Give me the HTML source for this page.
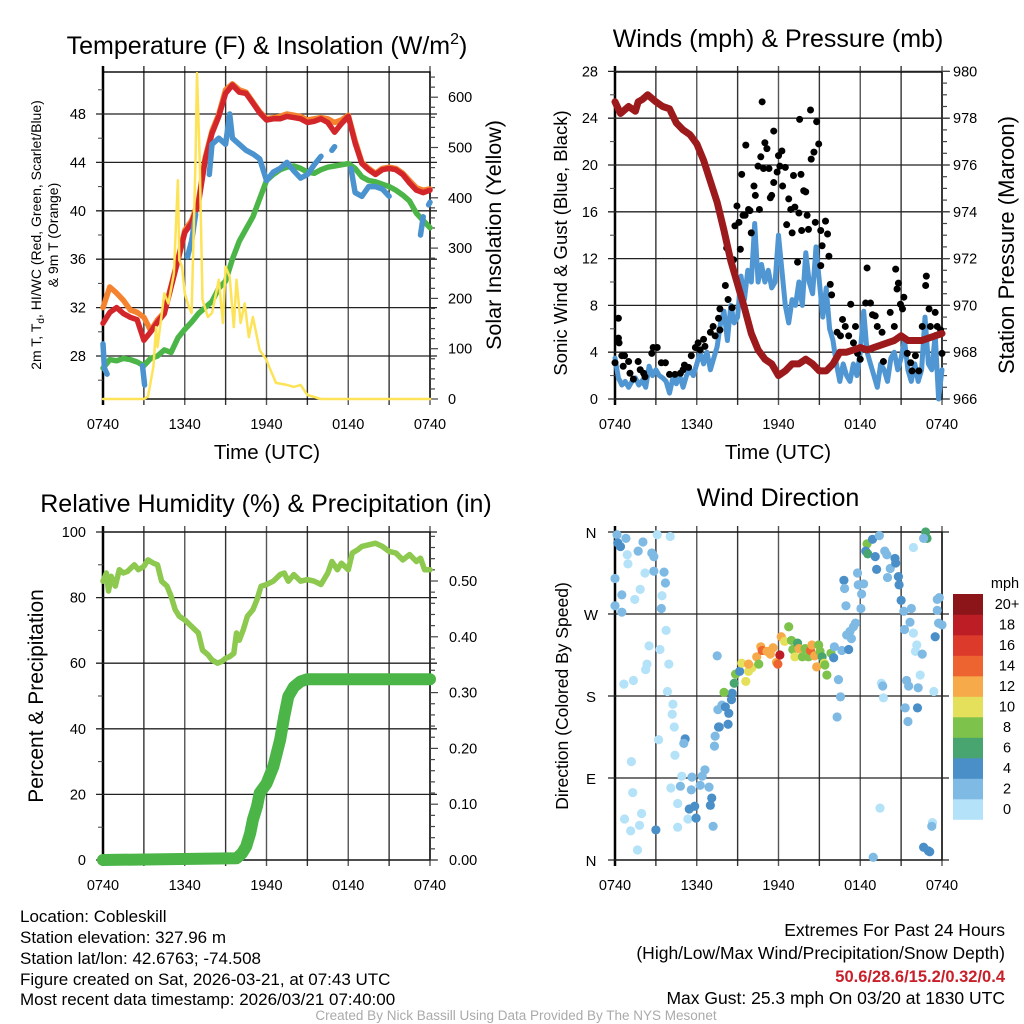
<!DOCTYPE html>
<html><head><meta charset="utf-8"><style>
html,body{margin:0;padding:0;background:#fff;}
svg{display:block;font-family:"Liberation Sans",Arial,sans-serif;}
</style></head><body>
<svg id="chart" width="1024" height="1024" viewBox="0 0 1024 1024" xmlns="http://www.w3.org/2000/svg">
<g id="static">
<text x="267" y="54" font-size="25" text-anchor="middle">Temperature (F) &amp; Insolation (W/m<tspan font-size="16" dy="-10">2</tspan><tspan dy="10">)</tspan></text>
<text x="778" y="47" font-size="25" text-anchor="middle">Winds (mph) &amp; Pressure (mb)</text>
<text x="266" y="512" font-size="25" text-anchor="middle">Relative Humidity (%) &amp; Precipitation (in)</text>
<text x="778" y="506" font-size="25" text-anchor="middle">Wind Direction</text>

<text x="267" y="459" font-size="20.5" text-anchor="middle">Time (UTC)</text>
<text x="778" y="459" font-size="20.5" text-anchor="middle">Time (UTC)</text>

<text transform="translate(41,235) rotate(-90)" font-size="14" text-anchor="middle">2m T, T<tspan font-size="10" dy="3">d</tspan><tspan dy="-3">, HI/WC (Red, Green, Scarlet/Blue)</tspan></text>
<text transform="translate(58,235) rotate(-90)" font-size="14" text-anchor="middle">&amp; 9m T (Orange)</text>
<text transform="translate(501,235) rotate(-90)" font-size="21.5" text-anchor="middle">Solar Insolation (Yellow)</text>
<text transform="translate(567,243) rotate(-90)" font-size="18.5" text-anchor="middle">Sonic Wind &amp; Gust (Blue, Black)</text>
<text transform="translate(1014,245) rotate(-90)" font-size="22" text-anchor="middle">Station Pressure (Maroon)</text>
<text transform="translate(43,696) rotate(-90)" font-size="21" text-anchor="middle">Percent &amp; Precipitation</text>
<text transform="translate(568,696) rotate(-90)" font-size="17.5" text-anchor="middle">Direction (Colored By Speed)</text>

<g font-size="17">
<text x="20" y="922">Location: Cobleskill</text>
<text x="20" y="943">Station elevation: 327.96 m</text>
<text x="20" y="964">Station lat/lon: 42.6763; -74.508</text>
<text x="20" y="985">Figure created on Sat, 2026-03-21, at 07:43 UTC</text>
<text x="20" y="1005">Most recent data timestamp: 2026/03/21 07:40:00</text>
</g>
<g font-size="17.5" text-anchor="end">
<text x="1005" y="936">Extremes For Past 24 Hours</text>
<text x="1005" y="959">(High/Low/Max Wind/Precipitation/Snow Depth)</text>
<text x="1005" y="982" fill="#c8202a" font-weight="bold" font-size="16.5">50.6/28.6/15.2/0.32/0.4</text>
<text x="1005" y="1004">Max Gust: 25.3 mph On 03/20 at 1830 UTC</text>
</g>
<text x="516" y="1020" font-size="13.5" fill="#aaa" text-anchor="middle">Created By Nick Bassill Using Data Provided By The NYS Mesonet</text>
</g>
<g id="dyn"></g>
</svg>
<script>
// ---------- DATA ----------
const timeLabels = ["0740","1340","1940","0140","0740"];
const tHalf = [0,0.5,1,1.5,2,2.5,3,3.5,4,4.5,5,5.5,6,6.5,7,7.5,8,8.5,9,9.5,10,10.5,11,11.5,12,12.5,13,13.5,14,14.5,15,15.5,16,16.5,17,17.5,18,18.5,19,19.5,20,20.5,21,21.5,22,22.5,23,23.5,24];
const tempRed = [30.7,31.6,32,31.5,31.2,31,29.3,30,30.8,31.5,33.7,35.9,38.2,39,40.6,44.2,46.4,47.8,49.7,50.4,49.8,49.7,48.9,48.1,47.5,47.6,47.6,47.8,47.7,47.6,47.3,47.4,47.6,47.3,46.5,47.2,47.8,45.6,43.9,43.4,43,43.4,43.5,43.4,43,42.3,41.7,41.5,41.7];
const temp9m = [32,33.7,33.2,32.6,31.8,31.6,31.2,30.1,31,31.6,33.8,36,38.4,39.2,40.8,44.4,46.6,48,50,50.5,50,49.8,49,48.2,47.6,47.7,47.8,48,47.9,47.8,47.5,47.6,47.7,47.6,47.3,47.5,47.9,45.8,44,43.5,43.1,43.5,43.6,43.5,43.1,42.5,41.9,41.7,41.8];
const dewGreen = [27,27.7,27.6,27.8,27.7,27.5,27.2,27.8,28,28.5,28.3,29.5,30.2,30.8,31.5,32,32.5,33.6,34.2,36,37.5,38.5,39.5,41,42.5,43,43.4,43.6,43.7,43.5,43.2,43.1,43.4,43.6,43.7,43.8,43.9,43.5,42.8,42.5,42.4,42.2,42,41.7,41.3,40.8,39.8,39.2,38.6];
const hiwcT = [0,0.1,0.3,null,2.9,3.05,null,6.2,6.5,6.8,null,7.8,8,8.5,9,9.3,9.5,10,10.5,11,11.5,12,12.5,13,13.5,14,14.5,15,15.5,16,null,16.8,17,null,18.2,18.5,19,19.5,20,20.5,21,null,23.3,23.5,null,23.9,24];
const hiwcV = [29,27,26.5,null,27.2,25.6,null,36.2,37.5,39.7,null,43,45.5,46,45.5,48,46,45.5,45,44.7,44.3,42.5,43.2,43.5,44,43.3,42.7,43,43.8,44.5,null,45,45.3,null,43.5,41.5,41.2,42,42,41.8,41.2,null,38,39.5,null,40.5,40.7];
const solarT = [0,3,3.3,3.7,3.9,4.0,4.5,4.8,5.2,5.5,5.6,5.8,6,6.3,6.5,6.8,6.9,7.1,7.3,7.7,8,8.5,8.8,9.0,9.3,9.6,9.8,10.1,10.4,10.7,11,11.5,12,12.2,12.7,13.5,14,14.5,15,15.5,16,24];
const solarW = [0,0,5,64,143,103,210,190,250,435,276,263,210,183,171,481,648,475,197,163,171,237,151,263,243,143,237,151,190,123,163,97,78,64,32,28,24,28,8,4,0,0];

const windT = [0,0.25,0.5,0.75,1,1.25,1.5,1.75,2,2.25,2.5,2.75,3,3.25,3.5,3.75,4,4.25,4.5,4.75,5,5.25,5.5,5.75,6,6.25,6.5,6.75,7,7.25,7.5,7.75,8,8.25,8.5,8.75,9,9.25,9.5,9.75,10,10.25,10.5,10.75,11,11.25,11.5,11.75,12,12.25,12.5,12.75,13,13.25,13.5,13.75,14,14.25,14.5,14.75,15,15.25,15.5,15.75,16,16.25,16.5,16.75,17,17.25,17.5,17.75,18,18.25,18.5,18.75,19,19.25,19.5,19.75,20,20.25,20.5,20.75,21,21.25,21.5,21.75,22,22.25,22.5,22.75,23,23.25,23.5,23.75,24];
const windMph = [3.5,1.8,1.2,1.5,1.0,1.5,1.8,1.2,1.6,1.0,2.8,2.0,2.5,2.0,1.8,1.5,0.5,1.8,1.3,2.0,1.0,2.0,2.5,2.0,3.0,4.0,3.0,4.0,2.5,3.5,4.5,6.5,7.5,5.0,8.0,6.5,7.0,10.5,8.5,11.0,10.0,15.0,10.0,11.5,10.0,11.0,9.5,10.0,14.0,11.0,8.0,6.5,8.5,8.0,10.0,8.0,12.5,10.0,9.0,13.0,10.0,7.0,9.5,6.0,5.0,3.0,1.5,3.0,2.0,1.5,3.0,2.0,4.0,7.5,4.0,3.0,2.0,1.0,3.0,2.5,1.5,3.5,4.0,2.5,3.5,5.0,2.5,1.5,3.0,1.5,2.5,7.0,3.0,2.5,5.5,0.0,2.5];
const gustT = [0,0.25,0.25,0.3,0.5,0.7,0.6,1.0,1.1,1.35,1.7,1.85,2.1,2.2,2.7,2.8,3.1,3.4,3.7,4.0,4.4,4.8,5.0,5.1,5.4,5.6,5.9,6.1,6.25,6.5,6.6,7.0,7.2,7.35,7.6,7.7,7.7,8.1,8.2,8.3,8.6,8.7,8.8,8.95,9.1,9.2,9.3,9.4,9.55,9.6,9.8,9.9,10.0,10.2,10.3,10.5,10.6,10.7,10.8,10.9,11.0,11.15,11.3,11.4,11.5,11.65,11.65,11.9,12.0,12.1,12.25,12.3,12.5,12.6,12.75,12.9,13.0,13.1,13.2,13.4,13.5,13.55,13.65,13.7,13.85,14.0,14.1,14.2,14.35,14.4,14.6,14.7,14.8,14.95,15.1,15.1,15.2,15.45,15.6,15.7,15.8,15.9,16.3,16.55,16.7,16.9,17.15,17.3,17.5,17.65,17.8,18.0,18.4,18.5,18.75,18.9,19.1,19.25,19.6,19.7,20.2,20.5,20.6,20.7,20.8,20.95,21.1,21.2,21.45,21.7,21.8,22.05,22.3,22.55,22.8,22.85,23.05,23.15,23.5,23.65,23.9,24.0];
const gustMph = [3.1,6.9,5.2,4.8,3.7,3.7,2.8,3.2,2.2,1.7,3.2,2.5,2.2,1.9,3.9,4.4,4.4,3.1,3.1,2.1,2.1,2.2,2.5,2.9,2.7,3.7,4.4,4.8,4.2,5.1,4.5,5.7,6.2,5.4,6.9,5.9,7.7,9.7,12.9,8.5,7.8,11.9,14.8,16.5,15.1,12.8,19.2,15.7,15.7,21.7,16.2,16.1,14.2,18.2,17.4,19.9,16.2,20.7,25.4,19.7,21.9,21.4,19.7,17.2,17.4,22.9,18.5,19.4,20.8,19.9,21.2,18.2,19.8,14.9,17.1,16.2,14.2,19.1,16.4,11.7,15.9,23.9,19.2,14.4,17.8,17.7,15.7,14.5,24.7,20.5,21.1,15.1,23.7,21.8,11.4,14.4,13.1,15.2,14.1,12.2,9.8,8.9,5.7,5.4,6.8,6.2,5.4,8.1,4.8,6.2,3.9,3.4,8.2,11.2,8.2,7.2,7.1,6.2,5.7,3.2,7.4,6.2,11.1,9.4,9.9,8.1,7.7,8.7,3.9,3.1,2.4,3.7,2.4,6.2,9.7,10.5,7.7,6.2,7.4,6.2,5.9,3.9];
const presT = [0,0.4,1,1.5,1.7,2,2.4,3,3.5,4,4.5,5,5.5,6,6.5,7,7.5,8,8.5,9,9.5,10,10.5,11,11.5,12,12.5,13,13.5,14,14.5,15,15.5,16,16.5,17,17.5,18,18.5,19,19.5,20,20.5,21,21.5,22,22.5,23,23.5,24];
const presMb = [978.7,978.2,978.5,978.3,978.7,978.8,979.0,978.7,978.5,978.4,977.8,977.5,977.3,976.9,976.2,975.3,974.4,973.2,971.9,970.9,969.9,968.8,968.1,967.7,967.5,967.0,967.2,967.5,967.5,967.7,967.5,967.2,967.2,967.5,968.0,968.0,968.1,968.2,968.1,968.2,968.3,968.4,968.5,968.7,968.5,968.5,968.5,968.6,968.7,968.8];

const rhT = [0,0.25,0.4,0.6,0.9,1.2,1.5,1.8,2.3,2.6,3.0,3.3,3.7,4.0,4.3,4.7,5.0,5.3,5.6,6.0,6.5,7.0,7.3,7.7,8.0,8.4,8.7,9.0,9.3,9.6,9.8,10.0,10.3,10.6,11.0,11.3,11.6,12.0,12.5,13.0,13.3,13.6,14.0,14.5,15.0,15.5,16.0,16.5,16.8,17.2,17.5,18.0,18.3,18.7,19.0,19.5,20.0,20.5,21.0,21.5,22.0,22.5,23.0,23.3,23.6,24];
const rhPct = [85,87.5,82,86.5,83.5,88.5,87.5,88,90,88.5,89.5,91.5,90.5,90,85,83.5,80.4,76.3,74.3,73.2,71.2,69.2,64,62.6,61,60,60.5,61.5,62,63,69.2,67,70.2,74.3,76.3,79.4,83.4,84,85,87,87.5,85,87,85,85.5,85,84,87.5,91,88.5,90.5,88.5,93.6,94.6,95.6,96.1,96.6,95.6,94.1,93.6,91.5,93.1,91,92,88.5,88.5];
const precipT = [0,9.8,10.2,10.5,10.8,11,11.3,11.5,12,12.5,13,13.3,13.6,14,14.5,15,24];
const precipIn = [0,0.003,0.012,0.024,0.048,0.072,0.096,0.12,0.137,0.167,0.215,0.257,0.293,0.31,0.32,0.324,0.324];

const dirT = [0.15,0.2,0.4,0.8,0,0.5,0,0.5,0.9,0.95,1.7,2.05,2.2,1.85,1.45,2.7,2.85,3.1,4.05,2.85,3.6,3.7,3.45,3.4,3.75,2.5,3.3,2.35,2.25,3.95,0.65,1.35,3.85,4.25,4.2,4.35,3.2,5.15,5.05,4.4,1.2,4.9,5.65,1.3,4.1,4.8,5.6,4.6,5.45,5.85,0.7,1.15,1.95,1.8,1.65,3.0,4.6,5.35,5.95,6.6,6.4,6.25,6.9,7.1,7.0,7.2,7.3,7.35,7.6,7.65,8.3,7.55,7.85,8.35,8.1,8.55,8.6,8.0,8.75,8.85,7.5,9.15,9.3,9.6,9.8,10.05,9.8,10.4,10.55,10.7,10.8,11.15,11.4,11.6,11.85,11.95,12.1,12.2,12.45,12.75,12.95,13.05,13.4,13.2,13.5,13.75,13.95,14.2,14.35,14.45,14.65,14.8,14.95,15.05,15.2,15.35,15.4,15.55,15.85,16.05,16.1,16.65,17.15,16.4,16.55,16.3,17.25,17.5,17.65,17.0,17.35,16.95,18.05,18.1,17.85,17.8,18.25,16.8,16.85,18.5,18.4,18.55,18.9,19.1,19.2,19.4,19.8,19.95,20.0,20.2,20.55,20.6,20.8,20.85,21.0,21.2,21.75,21.9,21.25,21.65,21.9,22.15,22.05,22.55,22.4,22.25,21.55,21.4,19.55,19.65,19.7,21.3,22.2,21.5,22.8,22.9,22.65,23.4,23.5,23.65,23.8,23.75,24.0,23.65,19.45,18.95,23.3,23.25,22.65,23.1,23.0];
const dirDeg = [357,348,344,353,309,291,279,272,335,325,339,349,315,297,286,337,333,357,355,317,316,304,290,276,252,235,231,215,209,215,193,197,185,171,160,146,132,133,128,115,108,92,91,74,79,81,77,62,56,59,45,32,51,38,11,33,36,45,46,99,92,82,80,68,60,37,125,136,146,146,149,165,170,161,168,176,183,184,194,204,224,207,216,196,207,211,215,223,215,234,230,229,226,233,217,215,225,245,240,256,241,231,238,223,232,223,232,223,230,236,224,212,236,229,223,216,214,203,227,222,234,230,231,198,179,157,251,256,260,247,243,279,276,292,302,315,303,307,298,347,339,336,352,333,319,356,339,335,310,320,331,326,311,302,285,273,276,343,253,261,249,236,229,226,203,189,191,197,194,191,178,167,167,152,360,353,353,185,245,286,288,260,258,274,57,3,41,37,14,9,10];
const dirSpd = [2,4,4,2,2,2,2,2,0,0,2,2,0,0,0,2,2,0,0,2,2,2,0,2,0,0,0,0,0,0,0,0,0,0,0,0,0,4,2,0,0,0,2,0,0,2,2,0,4,4,0,0,0,0,0,4,0,0,4,2,2,2,2,4,4,2,2,2,4,4,4,2,2,4,4,4,4,8,6,8,2,4,10,10,10,10,12,12,8,12,14,12,12,12,12,14,18,12,10,8,8,8,6,10,12,8,8,8,14,12,12,12,8,8,6,10,8,8,8,4,2,2,4,2,2,2,2,2,2,2,2,2,2,2,2,2,2,4,2,8,4,6,4,4,4,2,2,2,2,2,4,4,4,4,4,2,2,0,2,2,0,0,0,2,0,2,2,2,0,2,0,2,4,2,6,6,2,0,4,2,2,2,2,2,0,2,0,2,4,4,4];
const spdColors = ["#b4e2f8","#7fbae4","#4a8fc8","#48a56f","#7cc24b","#e5e05b","#f6aa49","#ee6430","#dc3a2b","#bd1d25","#8c1519"];
const cbLabels = ["0","2","4","6","8","10","12","14","16","18","20+"];

const tempTicks = [28,32,36,40,44,48];
const solarTicks = [0,100,200,300,400,500,600];
const windTicks = [0,4,8,12,16,20,24,28];
const presTicks = [966,968,970,972,974,976,978,980];
const rhTicks = [0,20,40,60,80,100];
const precipTicks = [0,0.1,0.2,0.3,0.4,0.5];
const dirTicks = [0,90,180,270,360];
const dirLabels = ["N","E","S","W","N"];

// ---------- AXES ----------
const NS="http://www.w3.org/2000/svg";
const dyn=document.getElementById('dyn');
function mk(tag,attrs,parent){const e=document.createElementNS(NS,tag);for(const k in attrs)e.setAttribute(k,attrs[k]);(parent||dyn).appendChild(e);return e;}
function txt(x,y,s,size,anchor,parent){const e=mk('text',{x:x,y:y,'font-size':size,'text-anchor':anchor},parent);e.textContent=s;return e;}

const P1={x0:103,x1:430,y0:72,y1:399}, P2={x0:615,x1:942,y0:72,y1:399}, P3={x0:103,x1:430,y0:532,y1:860}, P4={x0:615,x1:942,y0:532,y1:860};
const xS=(P)=>t=>P.x0+t*(P.x1-P.x0)/24;
const x1=xS(P1),x2=xS(P2),x3=xS(P3),x4=xS(P4);
const yTemp=T=>114+(48-T)*12.1;
const ySolar=W=>399-W*0.503;
const yWind=v=>399-v*11.7;
const yPres=p=>399-(p-966)*23.4;
const yRH=r=>860-r*3.28;
const yPre=i=>860-i*558;
const yDir=d=>860-d*328/360;

function frame(P,name,xf){
  const g=mk('g',{});
  
  
  for(let k=0;k<=8;k++){const x=xf(k*3);
    const l=mk('line',{x1:x,x2:x,y1:P.y0-6,y2:P.y1+6,stroke:(k%2?'#333':'#555'),'stroke-width':1.4},g);
    
    }
  for(let k=0;k<5;k++){const t=txt(xf(k*6),429,timeLabels[k],14.5,'middle',g);
    
    
    t.setAttribute('y',P.y1+30);}
  mk('rect',{x:P.x0,y:P.y0,width:P.x1-P.x0,height:P.y1-P.y0,fill:'none',stroke:'#000','stroke-width':1.4},g);
  mk('line',{x1:P.x0,x2:P.x0,y1:P.y0-6,y2:P.y1+6,stroke:'#000','stroke-width':2.5},g);
  return g;
}
function hgrid(g,P,y,grid){mk('line',{x1:P.x0-7,x2:grid?P.x1+7:P.x0,y1:y,y2:y,stroke:'#222','stroke-width':1.3},g);}
function rtick(g,P,y,len){mk('line',{x1:P.x1,x2:P.x1+len,y1:y,y2:y,stroke:'#444','stroke-width':1.2},g);}
function ltick(g,P,y){mk('line',{x1:P.x0-5,x2:P.x0,y1:y,y2:y,stroke:'#444','stroke-width':1},g);}
function line(xs,ys,xf,yf,color,w,name,cap){
  let d='',pen=false;
  const n=Math.min(xs.length,ys.length);
  for(let i=0;i<n;i++){ if(xs[i]===null||ys[i]===null){pen=false;continue;}
    d+=(pen?'L':'M')+xf(xs[i]).toFixed(1)+' '+yf(ys[i]).toFixed(1); pen=true;}
  const p=mk('path',{d:d,fill:'none',stroke:color,'stroke-width':w,'stroke-linejoin':'round','stroke-linecap':cap||'round'});
  
  
  return p;
}

// Panel 1
let g=frame(P1,'temperature',x1);
for(const T of tempTicks){hgrid(g,P1,yTemp(T),true);const t=txt(86,yTemp(T)+5,String(T),14.5,'end',g);
  
  }
for(let T=26;T<=50;T+=2){if(T%4)ltick(g,P1,yTemp(T));}
for(let W=0;W<=640;W+=20)rtick(g,P1,ySolar(W),W%100?5:8);
for(const W of solarTicks){const t=txt(448,ySolar(W)+5,String(W),14.5,'start',g);
  
  }
line(tHalf,temp9m,x1,yTemp,'#f5822f',5.5,'series-9m-temperature');
line(tHalf,tempRed,x1,yTemp,'#d3262a',5.5,'series-2m-temperature');
line(tHalf,dewGreen,x1,yTemp,'#4bb548',5.5,'series-dewpoint');
line(hiwcT,hiwcV,x1,yTemp,'#4b93cf',5.5,'series-heat-index-windchill');
line(solarT,solarW,x1,ySolar,'#fde357',2.5,'series-solar-insolation');

// Panel 2
g=frame(P2,'winds',x2);
for(const v of windTicks){hgrid(g,P2,yWind(v),true);const t=txt(598,yWind(v)+5,String(v),14.5,'end',g);
  
  }
for(let v=2;v<28;v+=4)ltick(g,P2,yWind(v));
for(let p=966;p<=980;p+=0.5)rtick(g,P2,yPres(p),(p%2===0)?8:5);
for(const p of presTicks){const t=txt(953,yPres(p)+5,String(p),14.5,'start',g);
  
  }
line(windT,windMph,x2,yWind,'#4f96d3',5,'series-sonic-wind');
for(let i=0;i<gustT.length;i++){
  const c=mk('circle',{cx:x2(gustT[i]),cy:yWind(gustMph[i]),r:3.5,fill:'#000'});
  
  
}
line(presT,presMb,x2,yPres,'#9c1a1c',7,'series-station-pressure');

// Panel 3
g=frame(P3,'humidity',x3);
for(const r of rhTicks){hgrid(g,P3,yRH(r),true);const t=txt(86,yRH(r)+5,String(r),14.5,'end',g);
  
  }
for(let r=10;r<100;r+=20)ltick(g,P3,yRH(r));
for(let i=0;i<=29;i++)rtick(g,P3,yPre(i*0.02),i%5?5:8);
for(const p of precipTicks){const t=txt(449,yPre(p)+5,p.toFixed(2),14.5,'start',g);
  
  }
line(rhT,rhPct,x3,yRH,'#8dc84f',5.5,'series-relative-humidity');
line(precipT,precipIn,x3,yPre,'#4bb548',12,'series-precipitation');

// Panel 4
g=frame(P4,'wind-direction',x4);
for(let k=0;k<dirTicks.length;k++){hgrid(g,P4,yDir(dirTicks[k]),true);const t=txt(591,yDir(dirTicks[k])+6,dirLabels[k],15,'middle',g);
  
  }
for(let i=0;i<dirT.length;i++){
  const c=mk('circle',{cx:x4(dirT[i]),cy:yDir(dirDeg[i]),r:4.6,fill:spdColors[Math.min(10,Math.floor((dirSpd[i]||0)/2))]});
  
  
}
// colorbar
const cb=mk('g',{});


const t0=txt(1005,588,'mph',14.5,'middle',cb);
for(let k=0;k<11;k++){
  const y=594+(10-k)*20.5;
  const r=mk('rect',{x:953,y:y,width:30,height:20.8,fill:spdColors[k]},cb);
  
  
  const t=txt(1007,y+15,cbLabels[k],14.5,'middle',cb);
  
  
}
</script>
</body></html>
